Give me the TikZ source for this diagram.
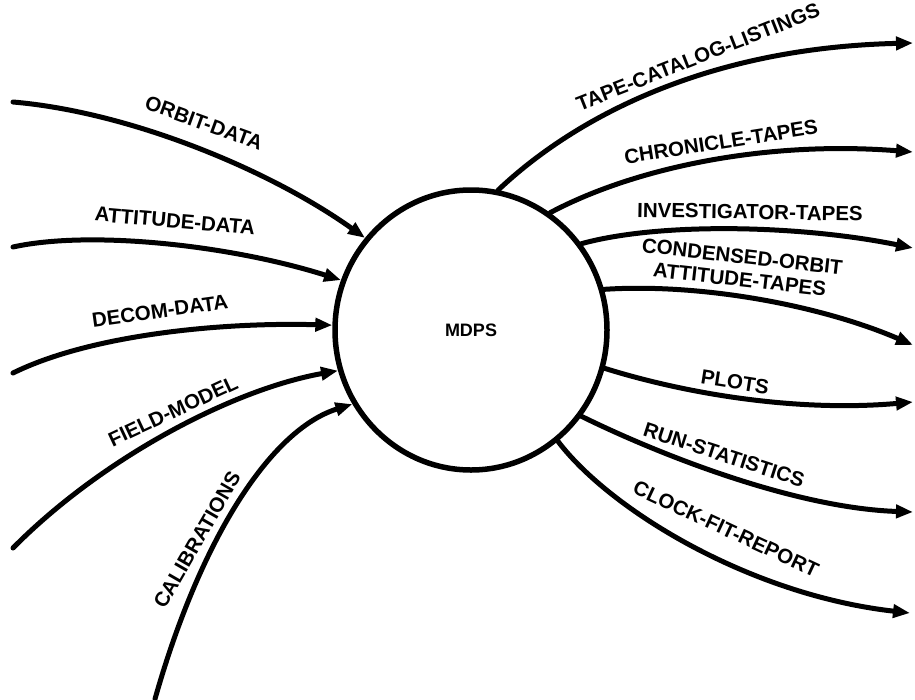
\documentclass[tikz,border=0pt]{standalone}
\usepackage{fontspec}
\setmainfont{Liberation Sans}
\usetikzlibrary{arrows.meta,shapes.geometric}
\begin{document}
\begin{tikzpicture}[x=1pt,y=-1pt,
  flow/.style={line width=5pt, line cap=round, -{Triangle[length=17pt,width=13pt]}},
  lbl/.style={font=\fontsize{20.5}{23}\selectfont\bfseries, inner sep=0pt, align=center},
  process/.style={ellipse, draw, line width=5.5pt, minimum width=272pt,
    minimum height=280pt, inner sep=0pt, font=\fontsize{18}{22}\selectfont\bfseries}]
\fill[white] (0,0) rectangle (915,699);
\useasboundingbox (0,0) rectangle (915,699);

% the process bubble
\node[process] (mdps) at (471,330) {MDPS};

% free ends of the input flows
\coordinate (orbit)  at (13,102);
\coordinate (att)    at (13,247);
\coordinate (decom)  at (13,373);
\coordinate (field)  at (13,548);
\coordinate (calib)  at (155,699);

% free ends of the output flows
\coordinate (tape)   at (913,43);
\coordinate (chron)  at (913,152);
\coordinate (invest) at (913,248);
\coordinate (cond)   at (913,345);
\coordinate (plots)  at (913,402);
\coordinate (run)    at (913,512);
\coordinate (clock)  at (910,613);

% input flows
\draw[flow] (orbit) .. controls (130,112) and (270,170) .. (mdps.139);
\draw[flow] (att)   .. controls (90,230)  and (230,245) .. (mdps.159);
\draw[flow] (decom) .. controls (90,335)  and (220,322) .. (mdps.178);
\draw[flow] (field) .. controls (100,460) and (230,390) .. (mdps.197);
\draw[flow] (calib) .. controls (200,540) and (270,430) .. (mdps.212);

% output flows
\draw[flow] (mdps.79.5) .. controls (570,122) and (700,48)  .. (tape);
\draw[flow] (mdps.56)   .. controls (630,170) and (760,140) .. (chron);
\draw[flow] (mdps.38)   .. controls (660,222) and (800,225) .. (invest);
\draw[flow] (mdps.17.4) .. controls (700,283) and (820,305) .. (cond);
\draw[flow] (mdps.-16.6).. controls (690,395) and (800,412) .. (plots);
\draw[flow] (mdps.-38)  .. controls (660,455) and (795,508) .. (run);
\draw[flow] (mdps.-52.7).. controls (610,510) and (750,595) .. (clock);

% flow labels
\node[lbl, rotate=-20] (l-orbit) at (204,123) {ORBIT-DATA};
\node[lbl, rotate=-5]  (l-att)   at (175,221) {ATTITUDE-DATA};
\node[lbl, rotate=8]   (l-decom) at (160,311) {DECOM-DATA};
\node[lbl, rotate=25]  (l-field) at (173,411) {FIELD-MODEL};
\node[lbl, rotate=60]  (l-calib) at (197,540) {CALIBRATIONS};

\node[lbl, rotate=21.5](l-tape)   at (698,57)  {TAPE-CATALOG-LISTINGS};
\node[lbl, rotate=9]   (l-chron)  at (721,142) {CHRONICLE-TAPES};
\node[lbl, rotate=-1]  (l-invest) at (750,212) {INVESTIGATOR-TAPES};
\node[lbl, rotate=-6.5](l-cond)   at (741,268) {CONDENSED-ORBIT\\ATTITUDE-TAPES};
\node[lbl, rotate=-9]  (l-plots)  at (735,382) {PLOTS};
\node[lbl, rotate=-18] (l-run)    at (724,455) {RUN-STATISTICS};
\node[lbl, rotate=-25] (l-clock)  at (726,529) {CLOCK-FIT-REPORT};
\end{tikzpicture}
\end{document}
